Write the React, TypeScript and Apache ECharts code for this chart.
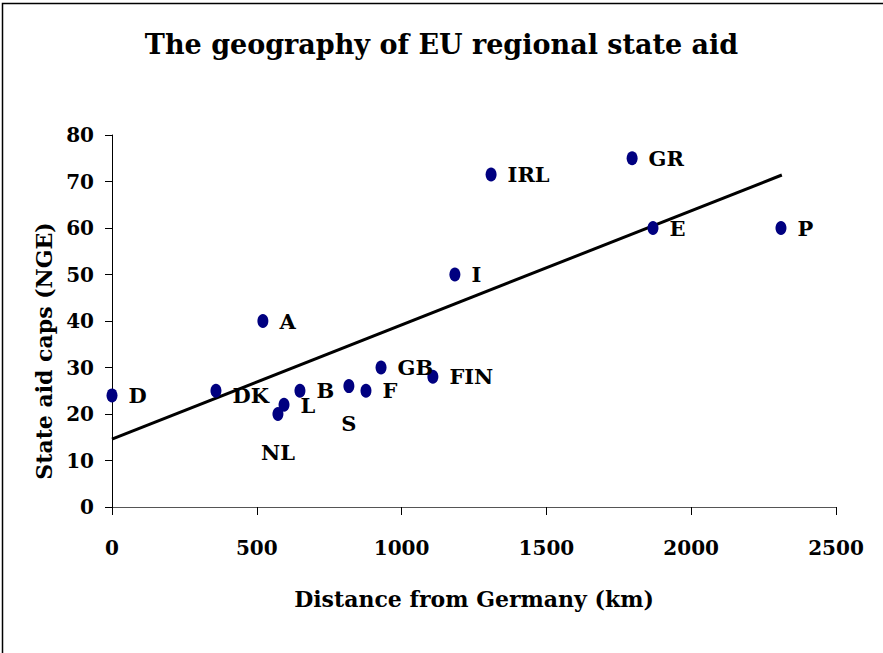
import React, { useEffect, useRef } from "react";
import * as echarts from "echarts";

const countries = ["D", "DK", "A", "NL", "L", "B", "S", "F", "GB", "FIN", "I", "IRL", "GR", "E", "P"];
const distanceKm = [0, 359, 521, 573, 594, 649, 818, 877, 929, 1108, 1184, 1309, 1796, 1868, 2310];
const aidCaps = [24, 25, 40, 20, 22, 25, 26, 25, 30, 28, 50, 71.5, 75, 60, 60];
const trendX = [0, 2313];
const trendY = [14.6, 71.4];
const xTicks = [0, 500, 1000, 1500, 2000, 2500];
const yTicks = [0, 10, 20, 30, 40, 50, 60, 70, 80];

const FONT = "DejaVu Serif";

// label placement (style only)
const labelPlacement: Record<string, any> = {
  DK: { position: "right", distance: 11, offset: [0, 5] },
  L: { position: "right", distance: 11, offset: [0, 1] },
  NL: { position: "bottom", distance: 21, offset: [0, 0] },
  S: { position: "bottom", distance: 20, offset: [0, 0] },
};

export default function App() {
  const ref = useRef<HTMLDivElement>(null);
  useEffect(() => {
    const chart = echarts.init(ref.current!, null, { renderer: "svg" });
    const points = countries.map((c, i) => {
      const lp = labelPlacement[c] || { position: "right", distance: 11, offset: [0, 0] };
      return {
        name: c,
        value: [distanceKm[i], aidCaps[i]],
        label: { show: true, formatter: c, ...lp },
      };
    });
    chart.setOption({
      animation: false,
      backgroundColor: "#ffffff",
      title: {
        text: "The geography of EU regional state aid",
        left: "center",
        top: 26,
        textStyle: { fontFamily: FONT, fontWeight: "bold", fontSize: 27, color: "#000" },
      },
      grid: { left: 112, right: 47, top: 135, bottom: 146 },
      xAxis: {
        type: "value",
        min: xTicks[0],
        max: xTicks[xTicks.length - 1],
        interval: 500,
        name: "Distance from Germany (km)",
        nameLocation: "middle",
        nameGap: 81,
        nameTextStyle: { fontFamily: FONT, fontWeight: "bold", fontSize: 22, color: "#000" },
        axisLine: { onZero: false, lineStyle: { color: "#555", width: 1 } },
        axisTick: { show: true, inside: false, length: 8, lineStyle: { color: "#000" } },
        axisLabel: {
          margin: 31,
          formatter: (v: number) => String(v),
          fontFamily: FONT,
          fontWeight: "bold",
          fontSize: 20,
          color: "#000",
        },
        splitLine: { show: false },
      },
      yAxis: {
        type: "value",
        min: yTicks[0],
        max: yTicks[yTicks.length - 1],
        interval: 10,
        axisLine: { show: true, onZero: false, lineStyle: { color: "#000", width: 1 } },
        axisTick: { show: true, inside: false, length: 7, lineStyle: { color: "#000" } },
        axisLabel: { margin: 18, fontFamily: FONT, fontWeight: "bold", fontSize: 20, color: "#000" },
        splitLine: { show: false },
      },
      graphic: [
        {
          type: "polyline",
          shape: { points: [[2.5, 700], [2.5, 3.5], [900, 3.5]] },
          style: { fill: "none", stroke: "#000", lineWidth: 1.5 },
          silent: true,
        },
        {
          type: "text",
          x: 44,
          y: 351,
          rotation: Math.PI / 2,
          style: {
            text: "State aid caps (NGE)",
            fontFamily: FONT,
            fontWeight: "bold",
            fontSize: 22,
            fill: "#000",
            align: "center",
            verticalAlign: "middle",
          },
        },
      ],
      series: [
        {
          type: "line",
          data: trendX.map((x, i) => [x, trendY[i]]),
          symbol: "none",
          lineStyle: { color: "#000", width: 3 },
          z: 2,
        },
        {
          type: "scatter",
          data: points,
          symbol: "circle",
          symbolSize: [11, 14],
          itemStyle: { color: "#000080", opacity: 1 },
          label: { fontFamily: FONT, fontWeight: "bold", fontSize: 21, color: "#000" },
          z: 3,
        },
      ],
    });
    return () => chart.dispose();
  }, []);
  return (
    <div
      ref={ref}
      style={{ position: "fixed", left: 0, top: 0, width: 883, height: 653, background: "#fff" }}
    />
  );
}
